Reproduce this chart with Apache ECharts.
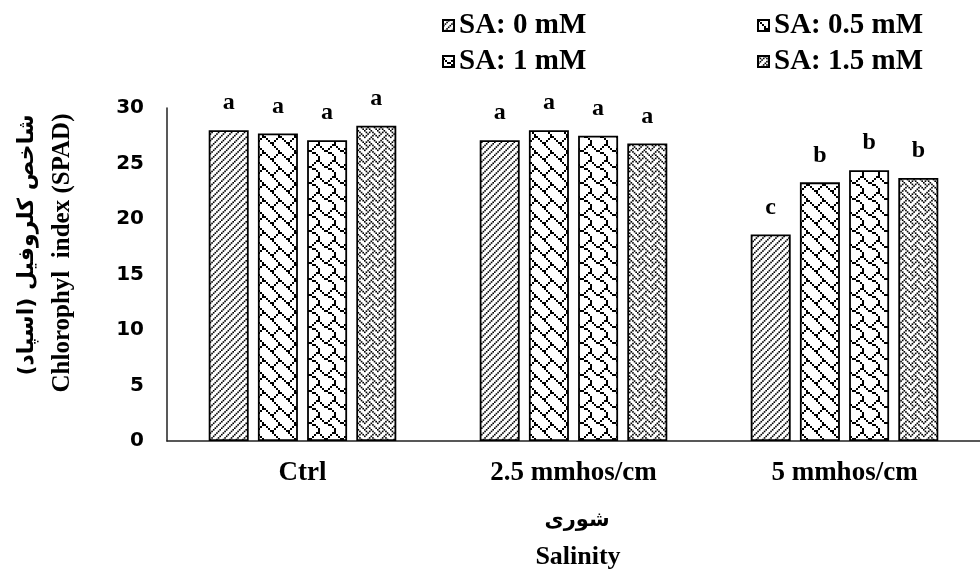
<!DOCTYPE html>
<html><head><meta charset="utf-8">
<script src="https://cdn.jsdelivr.net/npm/echarts@6/dist/echarts.min.js"></script>
<style>html,body{margin:0;padding:0;background:#fff}#c{width:980px;height:571px}</style>
</head><body><div id="c"></div>
<script>
// ---- data ----
const categories = ['Ctrl', '2.5 mmhos/cm', '5 mmhos/cm'];
const seriesNames = ['SA: 0 mM', 'SA: 0.5 mM', 'SA: 1 mM', 'SA: 1.5 mM'];
const sa0  = [28.0, 27.1, 18.6];
const sa05 = [27.7, 28.0, 23.3];
const sa1  = [27.1, 27.5, 24.4];
const sa15 = [28.4, 26.8, 23.7];
const letters0  = ['a', 'a', 'c'];
const letters05 = ['a', 'a', 'b'];
const letters1  = ['a', 'a', 'b'];
const letters15 = ['a', 'a', 'b'];
const yMin = 0, yMax = 30, yStep = 5;

const values = [sa0, sa05, sa1, sa15];
const letters = [letters0, letters05, letters1, letters15];

// ---- hatch patterns (8x8 bitmaps) ----
function makePattern(rows, scale) {
  const n = 8, size = Math.round(n * scale);
  const c = document.createElement('canvas');
  c.width = size; c.height = size;
  const g = c.getContext('2d');
  g.fillStyle = '#fff'; g.fillRect(0, 0, size, size);
  g.fillStyle = '#000';
  const s = size / n;
  rows.forEach((r, y) => {
    for (let x = 0; x < 8; x++) if (r & (0x80 >> x)) g.fillRect(x * s, y * s, s, s);
  });
  return c;
}
const patDiag   = makePattern([0x11, 0x22, 0x44, 0x88, 0x11, 0x22, 0x44, 0x88], 1.625);
const patBrick  = makePattern([0x80, 0x40, 0x20, 0x10, 0x18, 0x24, 0x42, 0x81], 2);
const patShing  = makePattern([0x03, 0x84, 0x48, 0x30, 0x0c, 0x02, 0x01, 0x01], 2);
const patWeave  = makePattern([0x88, 0x54, 0x22, 0x45, 0x88, 0x14, 0x22, 0x51], 1.625);
const patterns = [patDiag, patBrick, patShing, patWeave];

const serif = "'Liberation Serif', 'Times New Roman', serif";
const legendText = { fontFamily: serif, fontWeight: 'bold', fontSize: 29, color: '#000' };

const chart = echarts.init(document.getElementById('c'), null, { renderer: 'canvas' });
chart.setOption({
  backgroundColor: '#fff',
  animation: false,
  legend: [
    { data: [seriesNames[0], seriesNames[2]], orient: 'vertical', left: 437, top: 6,
      itemWidth: 11, itemHeight: 11, itemGap: 7, icon: 'rect', selectedMode: false,
      textStyle: legendText },
    { data: [seriesNames[1], seriesNames[3]], orient: 'vertical', left: 752, top: 6,
      itemWidth: 11, itemHeight: 11, itemGap: 7, icon: 'rect', selectedMode: false,
      textStyle: legendText }
  ],
  grid: { left: 167, right: -10, top: 108, bottom: 130, containLabel: false },
  xAxis: {
    type: 'category', data: categories,
    axisLine: { show: true, lineStyle: { color: '#222', width: 1.5 } },
    axisTick: { show: false },
    axisLabel: { margin: 19, fontFamily: serif, fontWeight: 'bold', fontSize: 27, color: '#000' },
    splitLine: { show: false }
  },
  yAxis: {
    type: 'value', min: yMin, max: yMax, interval: yStep,
    axisLine: { show: true, lineStyle: { color: '#222', width: 1.5 } },
    axisTick: { show: false },
    splitLine: { show: false },
    axisLabel: { margin: 23, fontFamily: "'DejaVu Sans', sans-serif", fontWeight: 'bold', fontSize: 20, color: '#000' }
  },
  series: seriesNames.map((nm, i) => ({
    name: nm, type: 'bar', data: values[i],
    barWidth: 40, barGap: '23%',
    itemStyle: { color: { image: patterns[i], repeat: 'repeat' }, borderColor: '#000', borderWidth: 1.8 },
    label: {
      show: true, position: 'top', distance: 15,
      formatter: p => letters[i][p.dataIndex],
      fontFamily: serif, fontWeight: 'bold', fontSize: 24, color: '#000'
    },
    emphasis: { disabled: true }
  })),
  graphic: [
    { type: 'text', x: 27, y: 245, rotation: Math.PI / 2,
      style: { text: '\u200Fشاخص کلروفیل (اسپاد)\u200F', fontFamily: "'DejaVu Sans', sans-serif", fontWeight: 'bold', fontSize: 22,
               fill: '#000', align: 'center', verticalAlign: 'middle' } },
    { type: 'text', x: 63, y: 253, rotation: Math.PI / 2,
      style: { text: 'Chlorophyl  index (SPAD)', font: "bold 25px 'Liberation Serif', serif",
               fill: '#000', align: 'center', verticalAlign: 'middle' } },
    { type: 'text', x: 577, y: 521,
      style: { text: 'شوری', fontFamily: "'DejaVu Sans', sans-serif", fontWeight: 'bold', fontSize: 21,
               fill: '#000', align: 'center', verticalAlign: 'middle' } },
    { type: 'text', x: 578, y: 557,
      style: { text: 'Salinity', font: "bold 26px 'Liberation Serif', serif",
               fill: '#000', align: 'center', verticalAlign: 'middle' } }
  ]
});
</script>
</body></html>
